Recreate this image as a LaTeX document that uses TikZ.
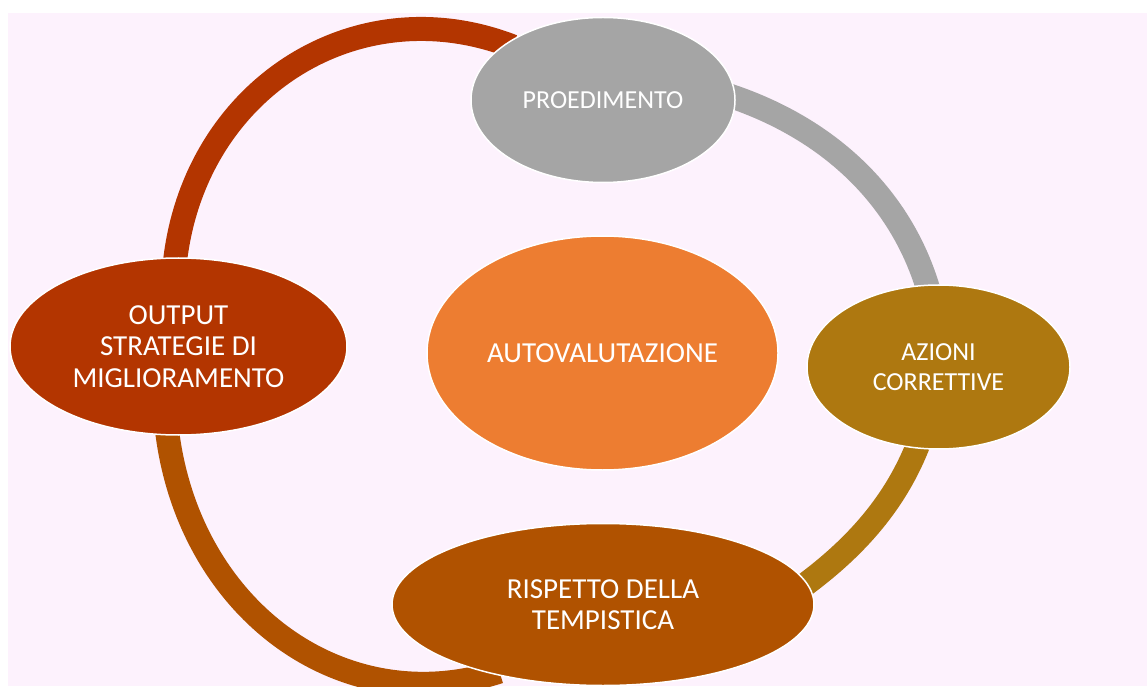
\documentclass[tikz,border=0pt]{standalone}
\usepackage{fontspec}
\setmainfont{Carlito}
\usetikzlibrary{shapes.geometric}
\pgfdeclarelayer{back}
\pgfdeclarelayer{arcs}
\pgfsetlayers{back,arcs,main}
\definecolor{pinkbg}{RGB}{253,242,253}
\definecolor{cred}{RGB}{179,53,0}
\definecolor{cbrown}{RGB}{176,82,0}
\definecolor{cgold}{RGB}{174,120,16}
\definecolor{cgray}{RGB}{165,165,165}
\definecolor{corange}{RGB}{237,125,49}
\begin{document}
\begin{tikzpicture}[x=1pt,y=1pt,
  bub/.style={ellipse, draw=white, line width=1.5pt, text=white, inner sep=0pt, align=center},
  bigtxt/.style={font=\fontsize{29}{31.5}\selectfont},
  smalltxt/.style={font=\fontsize{26}{30}\selectfont},
  conn/.style={line width=24pt, shorten <=-8pt, shorten >=-8pt}]
\useasboundingbox (0,0) rectangle (1147,686);
\begin{pgfonlayer}{back}
  \fill[white] (0,0) rectangle (1147,686);
  \fill[pinkbg] (8,0) rectangle (1147,673);
\end{pgfonlayer}

\node[bub, bigtxt, fill=cred, minimum width=337pt, minimum height=177pt] (output) at (178.5,339.5) {OUTPUT\\STRATEGIE DI\\MIGLIORAMENTO};
\node[bub, smalltxt, fill=cgray, minimum width=264pt, minimum height=165pt] (proed) at (603,586) {PROEDIMENTO};
\node[bub, smalltxt, fill=cgold, minimum width=263pt, minimum height=164pt] (azioni) at (938.5,319) {AZIONI\\CORRETTIVE};
\node[bub, bigtxt, fill=cbrown, minimum width=422pt, minimum height=162pt] (rispetto) at (603,81.5) {RISPETTO DELLA\\TEMPISTICA};
\node[bub, bigtxt, fill=corange, minimum width=351pt, minimum height=234pt] (auto) at (602.5,333) {AUTOVALUTAZIONE};

\begin{pgfonlayer}{arcs}
  \draw[conn, cgray] (proed.1) .. controls (831.9,556.5) and (902.6,486.1) .. (azioni.98);
  \draw[conn, cgold] (azioni.255) .. controls (896.8,185) and (856.9,139.1) .. (rispetto.6);
  \draw[conn, cbrown] (rispetto.212) .. controls (342.4,-36.5) and (187.4,76.5) .. (output.263);
  \draw[conn, cred] (output.92) .. controls (192.6,596.5) and (355.9,700.5) .. (proed.150);
\end{pgfonlayer}
\end{tikzpicture}
\end{document}
